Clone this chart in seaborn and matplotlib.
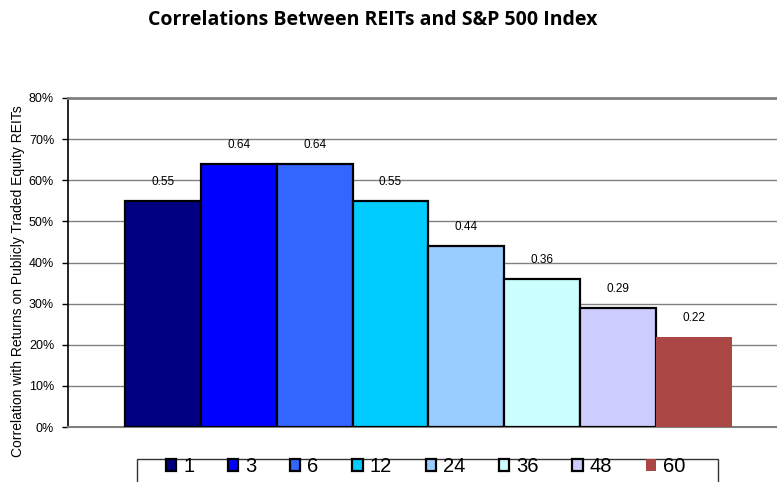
import numpy as np
import pandas as pd
import matplotlib
matplotlib.use("Agg")
import matplotlib.pyplot as plt
import seaborn as sns
from matplotlib.patches import Patch, Rectangle

# datos
periodos = ["1", "3", "6", "12", "24", "36", "48", "60"]
correlacion = [0.55, 0.64, 0.64, 0.55, 0.44, 0.36, 0.29, 0.22]
colores = ["#000080", "#0000FF", "#3366FF", "#00CCFF", "#99CCFF", "#CCFFFF", "#CCCCFF", "#AA4643"]

df = pd.DataFrame({"grupo": ["REITs"] * len(periodos),
                   "periodo": periodos,
                   "corr": correlacion})

sns.set_style("white")
plt.rcParams["font.family"] = ["Liberation Sans", "DejaVu Sans"]
plt.rcParams["text.color"] = "black"
plt.rcParams["axes.labelcolor"] = "black"
plt.rcParams["ytick.color"] = "black"

fig = plt.figure(figsize=(7.77, 4.82), dpi=100)
ax = fig.add_axes([68 / 777, 1 - 427 / 482, 721 / 777, (427 - 98) / 482])

sns.barplot(data=df, x="grupo", y="corr", hue="periodo", hue_order=periodos,
            palette=colores, saturation=1, width=0.8, gap=0, legend=False, ax=ax, zorder=3)

# bordes de las barras: negros salvo la ultima
for p, c in zip(ax.patches, colores):
    if c == "#AA4643":
        p.set_edgecolor("none")
    else:
        p.set_edgecolor("black")
        p.set_linewidth(1.6)

# etiquetas de valor
for p, v in zip(ax.patches, correlacion):
    ax.text(p.get_x() + p.get_width() / 2, v + 0.031, f"{v:.2f}",
            ha="center", va="bottom", fontsize=8.5)

ax.set_xlim(-0.475, 0.475)
ax.set_ylim(0, 0.8)
ax.set_yticks(np.arange(0, 0.81, 0.1))
ax.set_yticklabels([f"{int(round(t * 100))}%" for t in np.arange(0, 0.81, 0.1)], fontsize=9)
ax.set_xticks([])
ax.set_xlabel("")
ax.set_ylabel("Correlation with Returns on Publicly Traded Equity REITs", fontsize=10)
ax.yaxis.set_label_coords(-0.0596, 0.444)
ax.tick_params(axis="y", direction="out", length=4.3, width=1, color="black", pad=5.7, left=True)
ax.yaxis.grid(True, color="#808080", linewidth=1, zorder=0)
ax.set_axisbelow(True)

ax.spines["right"].set_visible(False)
ax.spines["left"].set_color("black")
ax.spines["left"].set_linewidth(1.2)
ax.spines["top"].set_color("#808080")
ax.spines["top"].set_linewidth(2)
ax.spines["bottom"].set_color("#808080")
ax.spines["bottom"].set_linewidth(1.5)

fig.text(373 / 777, 1 - 20 / 482, "Correlations Between REITs and S&P 500 Index",
         ha="center", va="center", fontsize=14, fontweight="bold", family="Open Sans")

# leyenda sin marco y marco dibujado aparte (cortado por abajo)
handles = []
for c in colores:
    ec = "none" if c == "#AA4643" else "black"
    handles.append(Patch(facecolor=c, edgecolor=ec, linewidth=1.6))
leg = fig.legend(handles, periodos, loc="upper left", bbox_to_anchor=(166 / 777, 1 - 457 / 482),
                 ncol=8, fontsize=14.5, frameon=False, handlelength=0.5,
                 handleheight=0.5, handletextpad=0.35, columnspacing=1.68,
                 borderpad=0, borderaxespad=0)
fig.add_artist(Rectangle((137 / 777, -0.05), (718 - 137) / 777, 0.05 + 1 - 459 / 482,
                         transform=fig.transFigure, fill=False, edgecolor="#333333", linewidth=1))

fig.savefig("out.png", dpi=100)
